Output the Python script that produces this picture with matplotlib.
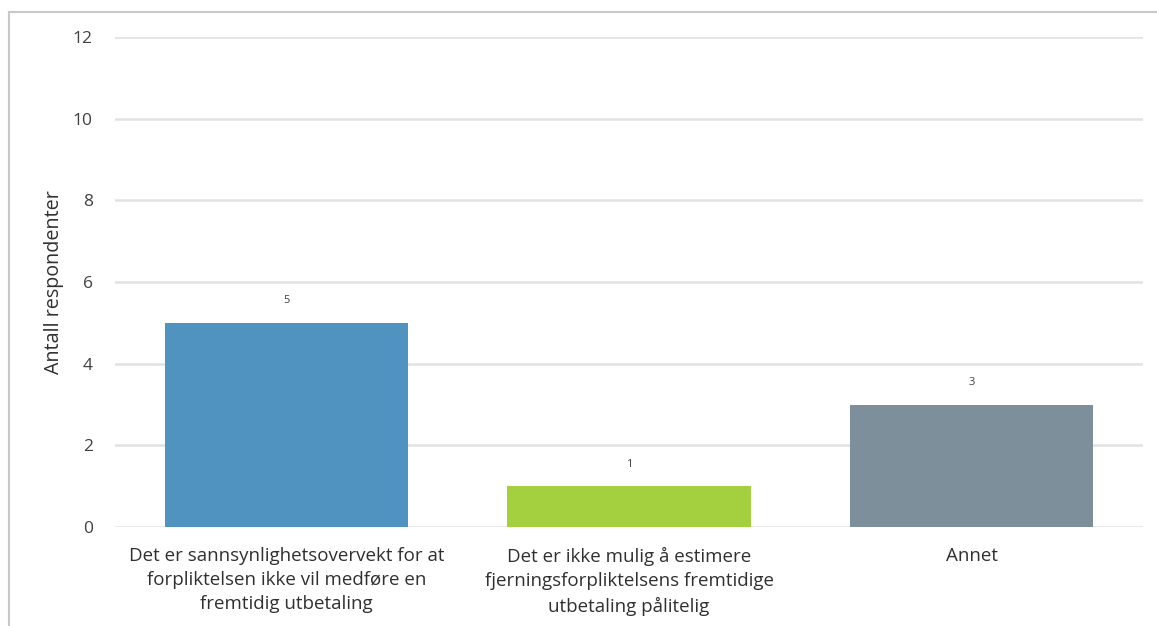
import numpy as np
import matplotlib.pyplot as plt
from matplotlib.lines import Line2D

plt.rcParams['font.family'] = ['Open Sans', 'DejaVu Sans']

# Svaralternativer og antall respondenter
categories = [
    "Det er sannsynlighetsovervekt for at\nforpliktelsen ikke vil medføre en\nfremtidig utbetaling",
    "Det er ikke mulig å estimere\nfjerningsforpliktelsens fremtidige\nutbetaling pålitelig",
    "Annet",
]
counts = [5, 1, 3]
colors = ["#5092c0", "#a4cf3e", "#7e8f9c"]
yticks = [0, 2, 4, 6, 8, 10, 12]

fig = plt.figure(figsize=(11.57, 6.26), dpi=100)
ax = fig.add_axes([0.0994, 0.158, 0.8886, 0.783])

x = np.arange(len(categories))
bars = ax.bar(x, counts, width=0.71, color=colors, zorder=3)

for b, v in zip(bars, counts):
    ax.annotate(str(v), (b.get_x() + b.get_width() / 2, v), xytext=(0, 12),
                textcoords="offset points", ha="center", va="bottom",
                fontsize=8, color="#404040")

ax.set_xlim(-0.5, len(categories) - 0.5)
ax.set_ylim(0, 12)
ax.set_yticks(yticks)
ax.set_xticks(x)
ax.set_xticklabels(categories, fontsize=13.5, color="#303030", linespacing=1.45)
ax.tick_params(axis="y", length=0, pad=16, labelsize=12.5, labelcolor="#404040")
ax.tick_params(axis="x", length=0, pad=14)
ax.yaxis.grid(True, color="#e2e2e2", linewidth=1.8, zorder=0)
ax.set_axisbelow(True)
for s in ax.spines.values():
    s.set_visible(False)

ax.set_ylabel("Antall respondenter", fontsize=14.2, color="#303030", labelpad=6)

# ramme langs venstre og øvre kant
fig.add_artist(Line2D([0.0075, 0.0075], [0.0, 0.981], transform=fig.transFigure,
                      color="#c8c8c8", linewidth=1.5))
fig.add_artist(Line2D([0.0075, 1.0], [0.981, 0.981], transform=fig.transFigure,
                      color="#c8c8c8", linewidth=1.5))

fig.savefig("out.png", dpi=100, facecolor="white")
